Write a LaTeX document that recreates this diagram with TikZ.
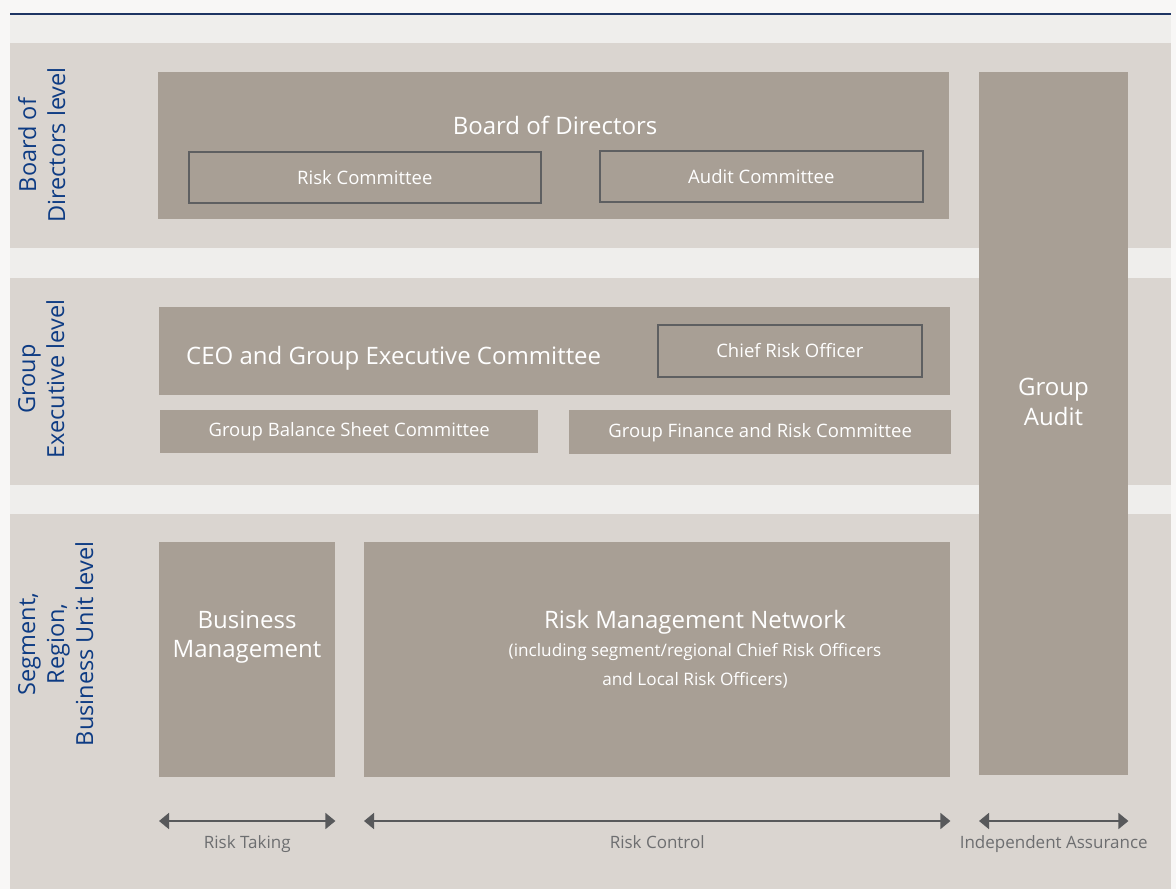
\documentclass[tikz,border=0pt]{standalone}
\usepackage{fontspec}
\setmainfont{Open Sans}
\usetikzlibrary{positioning,arrows.meta}
\definecolor{pagebg}{HTML}{F8F7F6}
\definecolor{lightbg}{HTML}{EFEEEC}
\definecolor{bandbg}{HTML}{DAD5D0}
\definecolor{boxfill}{HTML}{A89F95}
\definecolor{edgegray}{HTML}{5E5F61}
\definecolor{levelblue}{HTML}{0D3B83}
\definecolor{topline}{HTML}{1E3563}
\definecolor{arrowgray}{HTML}{58595B}
\definecolor{labelgray}{HTML}{6D6E70}
\tikzset{
  unit/.style={fill=boxfill, draw=none, inner sep=0pt, anchor=north west,
    text=white, font=\fontsize{18.5}{22}\selectfont},
  committee/.style={unit, draw=edgegray, line width=1.6pt},
  unittext/.style={text=white, inner sep=0pt, align=center,
    font=\fontsize{24}{29.5}\selectfont},
  subtext/.style={text=white, inner sep=0pt, align=center,
    font=\fontsize{17.2}{29}\selectfont},
  levellabel/.style={rotate=90, anchor=north, inner sep=0pt, align=center,
    text=levelblue, font=\fontsize{23.5}{29}\selectfont},
  span/.style={arrowgray, line width=1.8pt,
    {Triangle[length=10pt,width=16pt]}-{Triangle[length=10pt,width=16pt]}},
  spanlabel/.style={text=labelgray, inner sep=0pt, font=\fontsize{17}{20}\selectfont}
}
\begin{document}
\begin{tikzpicture}[x=1pt,y=-1pt]
   \useasboundingbox (0,0) rectangle (1176,889);
   \fill[pagebg] (0,0) rectangle (1176,889);
   \fill[lightbg] (9.5,15) rectangle (1171,889);
   \draw[topline, line width=1.5pt] (10,14) -- (1171,14);
   % level bands
   \fill[bandbg] (9.5,43) rectangle (1171,248);
   \fill[bandbg] (9.5,278) rectangle (1171,485);
   \fill[bandbg] (9.5,514) rectangle (1171,889);
   \node[levellabel] (bodlevel) at (18,145) {Board of\\Directors level};
   \node[levellabel] (gexlevel) at (18,379) {Group\\Executive level};
   \node[levellabel] (seglevel) at (18,644) {Segment,\\Region,\\Business Unit level};
   % board of directors
   \node[unit, minimum width=791pt, minimum height=147pt] (bod) at (158,72) {};
   \node[unittext] (bodtitle) at (555,125) {Board of Directors};
   \node[committee, minimum width=352pt, minimum height=51pt] (riskcom) at (188,151) {Risk Committee};
   \node[committee, minimum width=323pt, minimum height=51pt] (auditcom) at (599,150) {Audit Committee};
   % group audit
   \node[unit, minimum width=149pt, minimum height=703pt] (gaudit) at (979,72) {};
   \node[unittext] (gaudittitle) at (1053.5,402) {Group\\Audit};
   % group executive
   \node[unit, minimum width=791pt, minimum height=88pt] (ceo) at (159,307) {};
   \node[unittext, anchor=west] (ceotitle) at (186,358) {CEO and Group Executive Committee};
   \node[committee, minimum width=264pt, minimum height=52pt] (cro) at (657,324) {Chief Risk Officer};
   \node[unit, minimum width=378pt, minimum height=43pt] (gbsc) at (160,410) {Group Balance Sheet Committee};
   \node[unit, minimum width=382pt, minimum height=44pt] (gfrc) at (569,410) {Group Finance and Risk Committee};
   % segment level
   \node[unit, minimum width=176pt, minimum height=235pt] (bm) at (159,542) {};
   \node[unittext] (bmtitle) at (247,637) {Business\\Management};
   \node[unit, minimum width=586pt, minimum height=235pt] (rmn) at (364,542) {};
   \node[unittext] (rmntitle) at (695,622) {Risk Management Network};
   \node[subtext] (rmnsub) at (695,666) {(including segment/regional Chief Risk Officers\\and Local Risk Officers)};
   % spans
   \coordinate (take-l) at (bm.west |- 0,821);
   \coordinate (take-r) at (bm.east |- 0,821);
   \coordinate (ctrl-l) at (rmn.west |- 0,821);
   \coordinate (ctrl-r) at (rmn.east |- 0,821);
   \coordinate (assur-l) at (gaudit.west |- 0,821);
   \coordinate (assur-r) at (gaudit.east |- 0,821);
   \draw[span] (take-l) -- node[spanlabel, below=14pt] (takelabel) {Risk Taking} (take-r);
   \draw[span] (ctrl-l) -- node[spanlabel, below=14pt] (ctrllabel) {Risk Control} (ctrl-r);
   \draw[span] (assur-l) -- node[spanlabel, below=14pt] (assurlabel) {Independent Assurance} (assur-r);
\end{tikzpicture}
\end{document}
